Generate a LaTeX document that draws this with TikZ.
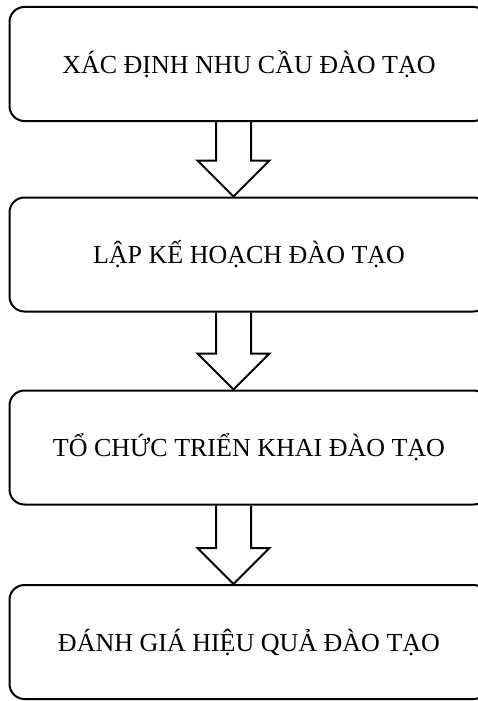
\documentclass[tikz,border=0pt]{standalone}
\usepackage{fontspec}
\setmainfont{Liberation Serif}
\usetikzlibrary{calc}

\tikzset{
  stagebox/.style={draw, line width=2pt, rounded corners=15pt, minimum width=479pt,
    minimum height=114pt, inner sep=0pt, font=\fontsize{26}{30}\selectfont},
  hollow/.style={draw, line width=2pt, line join=miter}
}

\begin{document}
\begin{tikzpicture}[x=1pt, y=-1pt]
  \useasboundingbox (0,0) rectangle (478,701);

  % the four stages
  \node[stagebox] (xacdinh) at (249,64) {XÁC ĐỊNH NHU CẦU ĐÀO TẠO};
  \node[stagebox] (lapkh) at (249,254.5) {LẬP KẾ HOẠCH ĐÀO TẠO};
  \node[stagebox] (tochuc) at (249,447.5) {TỔ CHỨC TRIỂN KHAI ĐÀO TẠO};
  \node[stagebox] (danhgia) at (249,642) {ĐÁNH GIÁ HIỆU QUẢ ĐÀO TẠO};

  % hollow arrow 1
  \coordinate (s1) at ($(xacdinh.south)+(-15.5,0)$);
  \coordinate (t1) at ($(lapkh.north)+(-15.5,0)$);
  \draw[hollow] ($(s1)+(-17.5,0)$) -- ($(t1)+(-17.5,-36)$) -- ($(t1)+(-36,-36)$) -- (t1)
    -- ($(t1)+(36,-36)$) -- ($(t1)+(17.5,-36)$) -- ($(s1)+(17.5,0)$);

  % hollow arrow 2
  \coordinate (s2) at ($(lapkh.south)+(-15.5,0)$);
  \coordinate (t2) at ($(tochuc.north)+(-15.5,0)$);
  \draw[hollow] ($(s2)+(-17.5,0)$) -- ($(t2)+(-17.5,-36)$) -- ($(t2)+(-36,-36)$) -- (t2)
    -- ($(t2)+(36,-36)$) -- ($(t2)+(17.5,-36)$) -- ($(s2)+(17.5,0)$);

  % hollow arrow 3
  \coordinate (s3) at ($(tochuc.south)+(-15.5,0)$);
  \coordinate (t3) at ($(danhgia.north)+(-15.5,0)$);
  \draw[hollow] ($(s3)+(-17.5,0)$) -- ($(t3)+(-17.5,-36)$) -- ($(t3)+(-36,-36)$) -- (t3)
    -- ($(t3)+(36,-36)$) -- ($(t3)+(17.5,-36)$) -- ($(s3)+(17.5,0)$);
\end{tikzpicture}
\end{document}
